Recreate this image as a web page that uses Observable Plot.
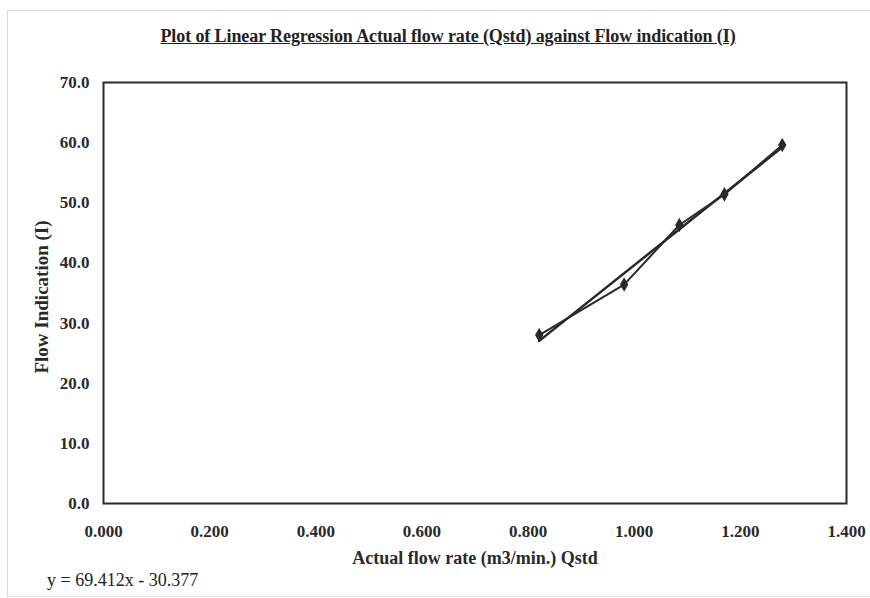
<!DOCTYPE html>
<html>
<head>
<meta charset="utf-8">
<script src="https://cdn.jsdelivr.net/npm/d3@7"></script>
<script src="https://cdn.jsdelivr.net/npm/@observablehq/plot@0.6"></script>
<style>
  html, body { margin: 0; padding: 0; background: #fff; }
  #wrap { position: relative; width: 870px; height: 598px; overflow: hidden; }
  #title { position: absolute; left: 0; width: 896px; top: 26px; text-align: center;
    font-family: "Liberation Serif", serif; font-weight: bold; font-size: 18px;
    text-decoration: underline; color: #222; letter-spacing: -0.1px; }
  #eq { position: absolute; left: 47px; top: 570px; font-family: "Liberation Serif", serif;
    font-size: 18px; color: #222; }
  #page { position: absolute; left: 7px; top: 10px; width: 880px; height: 585px;
    border-left: 1px solid #d8d8d8; border-top: 1px solid #d8d8d8; border-bottom: 1px solid #e2e2e2; }
  #wrap svg { position: absolute; left: 0; top: 0; }
</style>
</head>
<body>
<div id="wrap">
  <div id="chart"></div>
  <div id="page"></div>
  <div id="title"></div>
  <div id="eq"></div>
</div>
<script>
const titleText = "Plot of Linear Regression Actual flow rate (Qstd) against Flow indication (I)";
const xLabel = "Actual flow rate (m3/min.) Qstd";
const yLabel = "Flow Indication (I)";
const equationText = "y = 69.412x - 30.377";

// Measured points
const flowRate = [0.821, 0.981, 1.085, 1.170, 1.279];
const flowIndication = [28.0, 36.4, 46.3, 51.4, 59.6];

const xTicks = [0, 0.2, 0.4, 0.6, 0.8, 1.0, 1.2, 1.4];
const yTicks = [0, 10, 20, 30, 40, 50, 60, 70];

const data = flowRate.map((x, i) => ({x, y: flowIndication[i]}));
const ink = "#2a2a2a";

const chart = Plot.plot({
  width: 870,
  height: 598,
  marginLeft: 103,
  marginRight: 24,
  marginTop: 82,
  marginBottom: 95,
  style: {fontFamily: "Liberation Serif, serif", fontWeight: "bold", fontSize: "17px", color: ink, background: "transparent"},
  x: {domain: [0, 1.4], ticks: xTicks, tickFormat: d3.format(".3f"), label: null},
  y: {domain: [0, 70], ticks: yTicks, tickFormat: d3.format(".1f"), label: null},
  marks: [
    Plot.axisX({ticks: xTicks, tickFormat: d3.format(".3f"), tickSize: 0, tickPadding: 21, label: null}),
    Plot.axisY({ticks: yTicks, tickFormat: d3.format(".1f"), tickSize: 0, tickPadding: 14, label: null}),
    Plot.frame({stroke: ink, strokeWidth: 2}),
    Plot.linearRegressionY(data, {x: "x", y: "y", ci: 0, stroke: ink, strokeWidth: 2.5}),
    Plot.line(data, {x: "x", y: "y", stroke: ink, strokeWidth: 2}),
    Plot.dot(data, {x: "x", y: "y", symbol: "diamond", r: 3.5, fill: ink, stroke: ink}),
    Plot.text([xLabel], {frameAnchor: "bottom", dy: 60, fontWeight: "bold", fontSize: 18, fill: ink}),
    Plot.text([yLabel], {frameAnchor: "left", dx: -62, dy: 4, rotate: -90, textAnchor: "middle", fontWeight: "bold", fontSize: 19, fill: ink})
  ]
});
document.getElementById("chart").appendChild(chart);
document.getElementById("title").textContent = titleText;
document.getElementById("eq").textContent = equationText;
</script>
</body>
</html>
